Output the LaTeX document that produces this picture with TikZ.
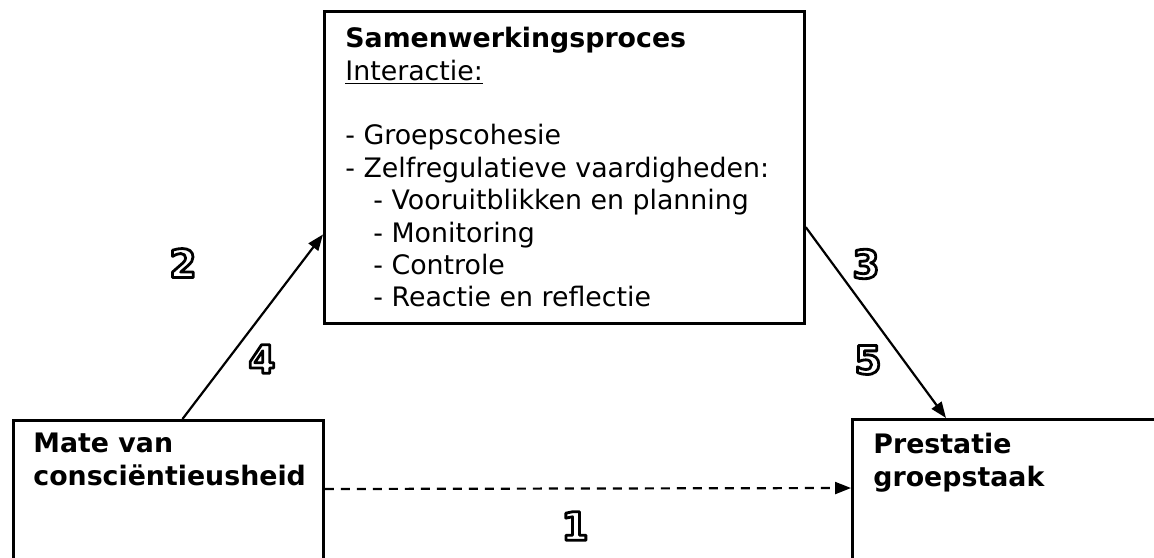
\documentclass[tikz,border=0pt]{standalone}
\usepackage{fontspec}
\setmainfont{DejaVu Sans}
\usetikzlibrary{arrows.meta,positioning,calc}
\tikzset{
  >={Triangle[length=8pt,width=6pt]},
  box/.style={draw=black, line width=1.4pt, rectangle, inner sep=0pt, anchor=north west},
  txt/.style={font=\fontsize{13.4}{16.2}\selectfont, align=left, inner sep=0pt, anchor=north west},
  arr/.style={->, line width=1.1pt},
  dasharr/.style={arr, dash pattern=on 4.5pt off 3.5pt},
  num/.style={font=\fontsize{19.5}{19.5}\selectfont\bfseries, inner sep=0pt},
}
% outlined digit (stroked glyph)
\newcommand\outdigit[1]{\special{pdf:literal direct 1 Tr 1.4 w 1 j}#1\special{pdf:literal direct 0 Tr}}

\begin{document}
\begin{tikzpicture}[x=0.5pt, y=-0.5pt]
  \useasboundingbox (0,0) rectangle (1154,557);
  \clip (0,0) rectangle (1154,557);

  % ---------------- boxes ----------------
  \node[box, minimum width=240pt, minimum height=156pt] (proc) at (323,10) {};
  \node[box, minimum width=155pt, minimum height=100pt] (cons) at (12,419) {};
  \node[box, minimum width=200pt, minimum height=100pt] (prest) at (851,418) {};

  \node[txt] (proctxt) at (345,27) {%
    \textbf{Samenwerkingsproces}\\
    \underline{Interactie:}\\[16.2pt]
    - Groepscohesie\\
    - Zelfregulatieve vaardigheden:\\
    \hspace*{14pt}- Vooruitblikken en planning\\
    \hspace*{14pt}- Monitoring\\
    \hspace*{14pt}- Controle\\
    \hspace*{14pt}- Reactie en reflectie};
  \node[txt, font=\fontsize{13.4}{16.2}\selectfont\bfseries] (constxt) at (33,433) {Mate van\\consciëntieusheid};
  \node[txt, font=\fontsize{13.4}{16.2}\selectfont\bfseries] (presttxt) at (873,433) {Prestatie\\groepstaak};

  % ---------------- paths ----------------
  \draw[arr] ($(cons.north west)!0.545!(cons.north east)$) -- ($(proc.north west)!0.713!(proc.south west)$);
  \draw[arr] ($(proc.north east)!0.69!(proc.south east)$) -- ($(prest.north west)+(95,0)$);
  \draw[dasharr] ($(cons.north east)+(0,70)$) -- ($(prest.north west)+(0,70)$);

  % ---------------- numbers ----------------
  \node[num] (n1) at (575,526) {\outdigit{1}};
  \node[num] (n2) at (183,263) {\outdigit{2}};
  \node[num] (n3) at (866,264) {\outdigit{3}};
  \node[num] (n4) at (262,359) {\outdigit{4}};
  \node[num] (n5) at (868,360) {\outdigit{5}};
\end{tikzpicture}
\end{document}
